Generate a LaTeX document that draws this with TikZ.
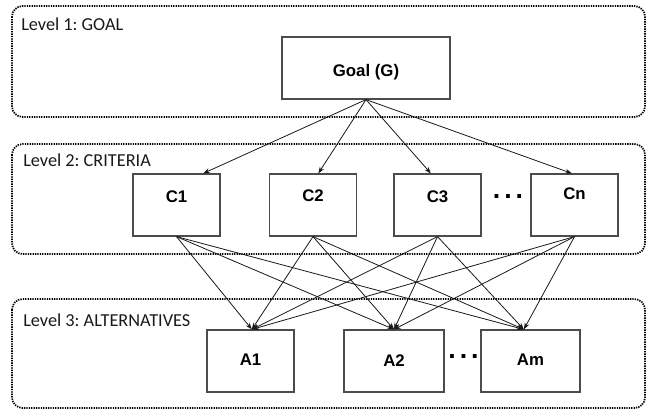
\documentclass[tikz,border=0pt]{standalone}
\usepackage{fontspec}
\setmainfont{Liberation Sans}
\newfontfamily\lvlfont{Carlito}
\usetikzlibrary{arrows.meta}
\frenchspacing
\tikzset{
  levelbox/.style={draw=black, dash pattern=on 1pt off 0.8pt, line width=1.3pt, rounded corners=8pt},
  levellabel/.style={anchor=west, inner sep=0pt, font=\lvlfont\fontsize{13.7pt}{15pt}\selectfont, text=black!90},
  box/.style={draw=black!70, line width=0.9pt, minimum height=46.5pt, inner sep=0pt},
  boxlabel/.style={inner sep=0pt, font=\bfseries\fontsize{12.6pt}{14pt}\selectfont},
  dotslabel/.style={inner sep=0pt, font=\bfseries\fontsize{20pt}{20pt}\selectfont},
  link/.style={draw=black!90, line width=0.6pt, -{Stealth[length=5pt,width=3.6pt]}}
}
\begin{document}
\begin{tikzpicture}[x=0.75pt,y=-0.75pt]
\useasboundingbox (0,0) rectangle (648,410);
% level containers
\draw[levelbox] (12,6) rectangle (645,117);
\draw[levelbox] (12,144) rectangle (645,254);
\draw[levelbox] (12,299) rectangle (645,408);
\node[levellabel] (l1) at (21,24) {Level 1: GOAL};
\node[levellabel] (l2) at (23,160) {Level 2: CRITERIA};
\node[levellabel] (l3) at (23,320) {Level 3: ALTERNATIVES};
% goal
\node[box, minimum width=126pt] (goal) at (366,68) {};
\node[boxlabel] (goalt) at (366,72) {Goal (G)};
% criteria
\node[box, minimum width=65.25pt] (c1) at (176.5,205) {};
\node[box, minimum width=65.25pt] (c2) at (313,205) {};
\node[box, minimum width=65.25pt] (c3) at (437.5,205) {};
\node[box, minimum width=65.25pt] (cn) at (574.5,205) {};
\node[boxlabel] (c1t) at (176.5,197) {C1};
\node[boxlabel] (c2t) at (313,196) {C2};
\node[boxlabel] (c3t) at (437.5,197) {C3};
\node[boxlabel] (cnt) at (574.5,194) {Cn};
\node[dotslabel] (cdots) at (508,197) {.\hspace{3pt}.\hspace{3pt}.};
% alternatives
\node[box, minimum width=65.25pt] (a1) at (250.5,361) {};
\node[box, minimum width=75pt] (a2) at (394,361) {};
\node[box, minimum width=74.25pt] (am) at (530.5,361) {};
\node[boxlabel] (a1t) at (250.5,360) {A1};
\node[boxlabel] (a2t) at (394,361) {A2};
\node[boxlabel] (amt) at (530.5,360) {Am};
\node[dotslabel] (adots) at (463.5,357) {.\hspace{3pt}.\hspace{3pt}.};
% goal to criteria
\draw[link] (goal.south) -- ([xshift=20pt]c1.north);
\draw[link] (goal.south) -- ([xshift=4pt]c2.north);
\draw[link] (goal.south) -- ([xshift=-5pt]c3.north);
\draw[link] (goal.south) -- ([xshift=-2pt]cn.north);
% criteria to alternatives
\foreach \c in {c1,c2,c3,cn}{
  \draw[link] (\c.south) -- ([xshift=1pt]a1.north);
  \draw[link] (\c.south) -- (a2.north);
  \draw[link] (\c.south) -- ([xshift=-5pt]am.north);
}
\end{tikzpicture}
\end{document}
